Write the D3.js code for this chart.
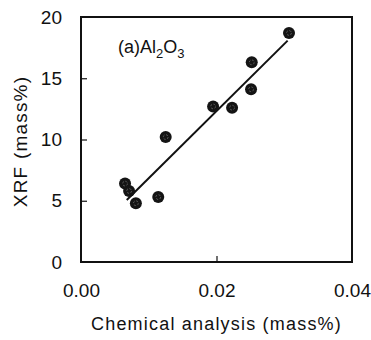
<!DOCTYPE html>
<html>
<head>
<meta charset="utf-8">
<script src="https://cdn.jsdelivr.net/npm/d3@7"></script>
<style>
  html, body { margin: 0; padding: 0; background: #fff; }
  svg { display: block; font-family: "Liberation Sans", Arial, sans-serif; }
</style>
</head>
<body>
<svg id="chart" width="371" height="340"></svg>
<script>
// Al2O3: chemical analysis vs XRF (mass%)
const chemical = [0.0065, 0.0071, 0.0081, 0.0114, 0.0125, 0.0195, 0.0223, 0.0251, 0.0252, 0.0307];
const xrf      = [6.4,    5.8,    4.8,    5.3,    10.2,   12.7,   12.6,   14.1,   16.3,   18.7];

// regression line: XRF = slope * chemical + intercept, drawn over the data span
const fitSlope = 548;
const fitIntercept = 1.36;
const fitRange = [0.00675, 0.0305];

const xTicks = [0.00, 0.02, 0.04];
const yTicks = [0, 5, 10, 15, 20];

const margin = { left: 81, right: 19, top: 17, bottom: 78 };
const W = 371, H = 340;
const svg = d3.select("#chart");

const x = d3.scaleLinear().domain([0, 0.04]).range([margin.left, W - margin.right]);
const y = d3.scaleLinear().domain([0, 20]).range([H - margin.bottom, margin.top]);

const ink = "#111";

// plot frame
svg.append("rect")
  .attr("x", x(0)).attr("y", y(20))
  .attr("width", x(0.04) - x(0)).attr("height", y(0) - y(20))
  .attr("fill", "none").attr("stroke", ink).attr("stroke-width", 2);

// left axis: inward ticks, labels outside
const yAxis = svg.append("g")
  .attr("transform", `translate(${x(0)},0)`)
  .call(d3.axisLeft(y).tickValues(yTicks).tickSize(-6).tickPadding(19).tickFormat(d3.format("d")));
yAxis.select(".domain").remove();
yAxis.selectAll(".tick line").attr("stroke", ink).attr("stroke-width", 1.2)
  .filter(d => d === 0 || d === 20).remove();
yAxis.selectAll(".tick text")
  .attr("font-size", 19).attr("fill", ink)
  .attr("font-family", "Liberation Sans, Arial, sans-serif");

// bottom axis
const xAxis = svg.append("g")
  .attr("transform", `translate(0,${y(0)})`)
  .call(d3.axisBottom(x).tickValues(xTicks).tickSize(-6).tickPadding(22).tickFormat(d3.format(".2f")));
xAxis.select(".domain").remove();
xAxis.selectAll(".tick line").attr("stroke", ink).attr("stroke-width", 1.2)
  .filter(d => d === 0 || d === 0.04).remove();
xAxis.selectAll(".tick text")
  .attr("font-size", 19).attr("fill", ink)
  .attr("font-family", "Liberation Sans, Arial, sans-serif");

// axis titles
svg.append("text")
  .attr("x", (x(0) + x(0.04)) / 2).attr("y", 330)
  .attr("text-anchor", "middle")
  .attr("font-size", 18).attr("letter-spacing", 1.2).attr("fill", ink)
  .text("Chemical analysis (mass%)");

svg.append("text")
  .attr("transform", `translate(27,${(y(0) + y(20)) / 2 + 2}) rotate(-90)`)
  .attr("text-anchor", "middle")
  .attr("font-size", 19).attr("letter-spacing", 1.2).attr("fill", ink)
  .text("XRF (mass%)");

// panel label
const label = svg.append("text")
  .attr("x", 118).attr("y", 53)
  .attr("font-size", 18).attr("fill", ink);
label.append("tspan").text("(a)Al");
label.append("tspan").attr("font-size", 13).attr("dy", 5).text("2");
label.append("tspan").attr("dy", -5).text("O");
label.append("tspan").attr("font-size", 13).attr("dy", 5).text("3");

// regression line
svg.append("line")
  .attr("x1", x(fitRange[0])).attr("y1", y(fitSlope * fitRange[0] + fitIntercept))
  .attr("x2", x(fitRange[1])).attr("y2", y(fitSlope * fitRange[1] + fitIntercept))
  .attr("stroke", ink).attr("stroke-width", 2);

// data points
const pts = svg.append("g").selectAll("g")
  .data(chemical.map((c, i) => ({ c, v: xrf[i] })))
  .join("g")
  .attr("transform", d => `translate(${x(d.c)},${y(d.v)})`);
pts.append("circle").attr("r", 6).attr("fill", "#141414");
pts.append("circle").attr("r", 2.4).attr("fill", "none")
  .attr("stroke", "#6a6a6a").attr("stroke-width", 0.8).attr("stroke-dasharray", "2 1.5");
</script>
</body>
</html>
